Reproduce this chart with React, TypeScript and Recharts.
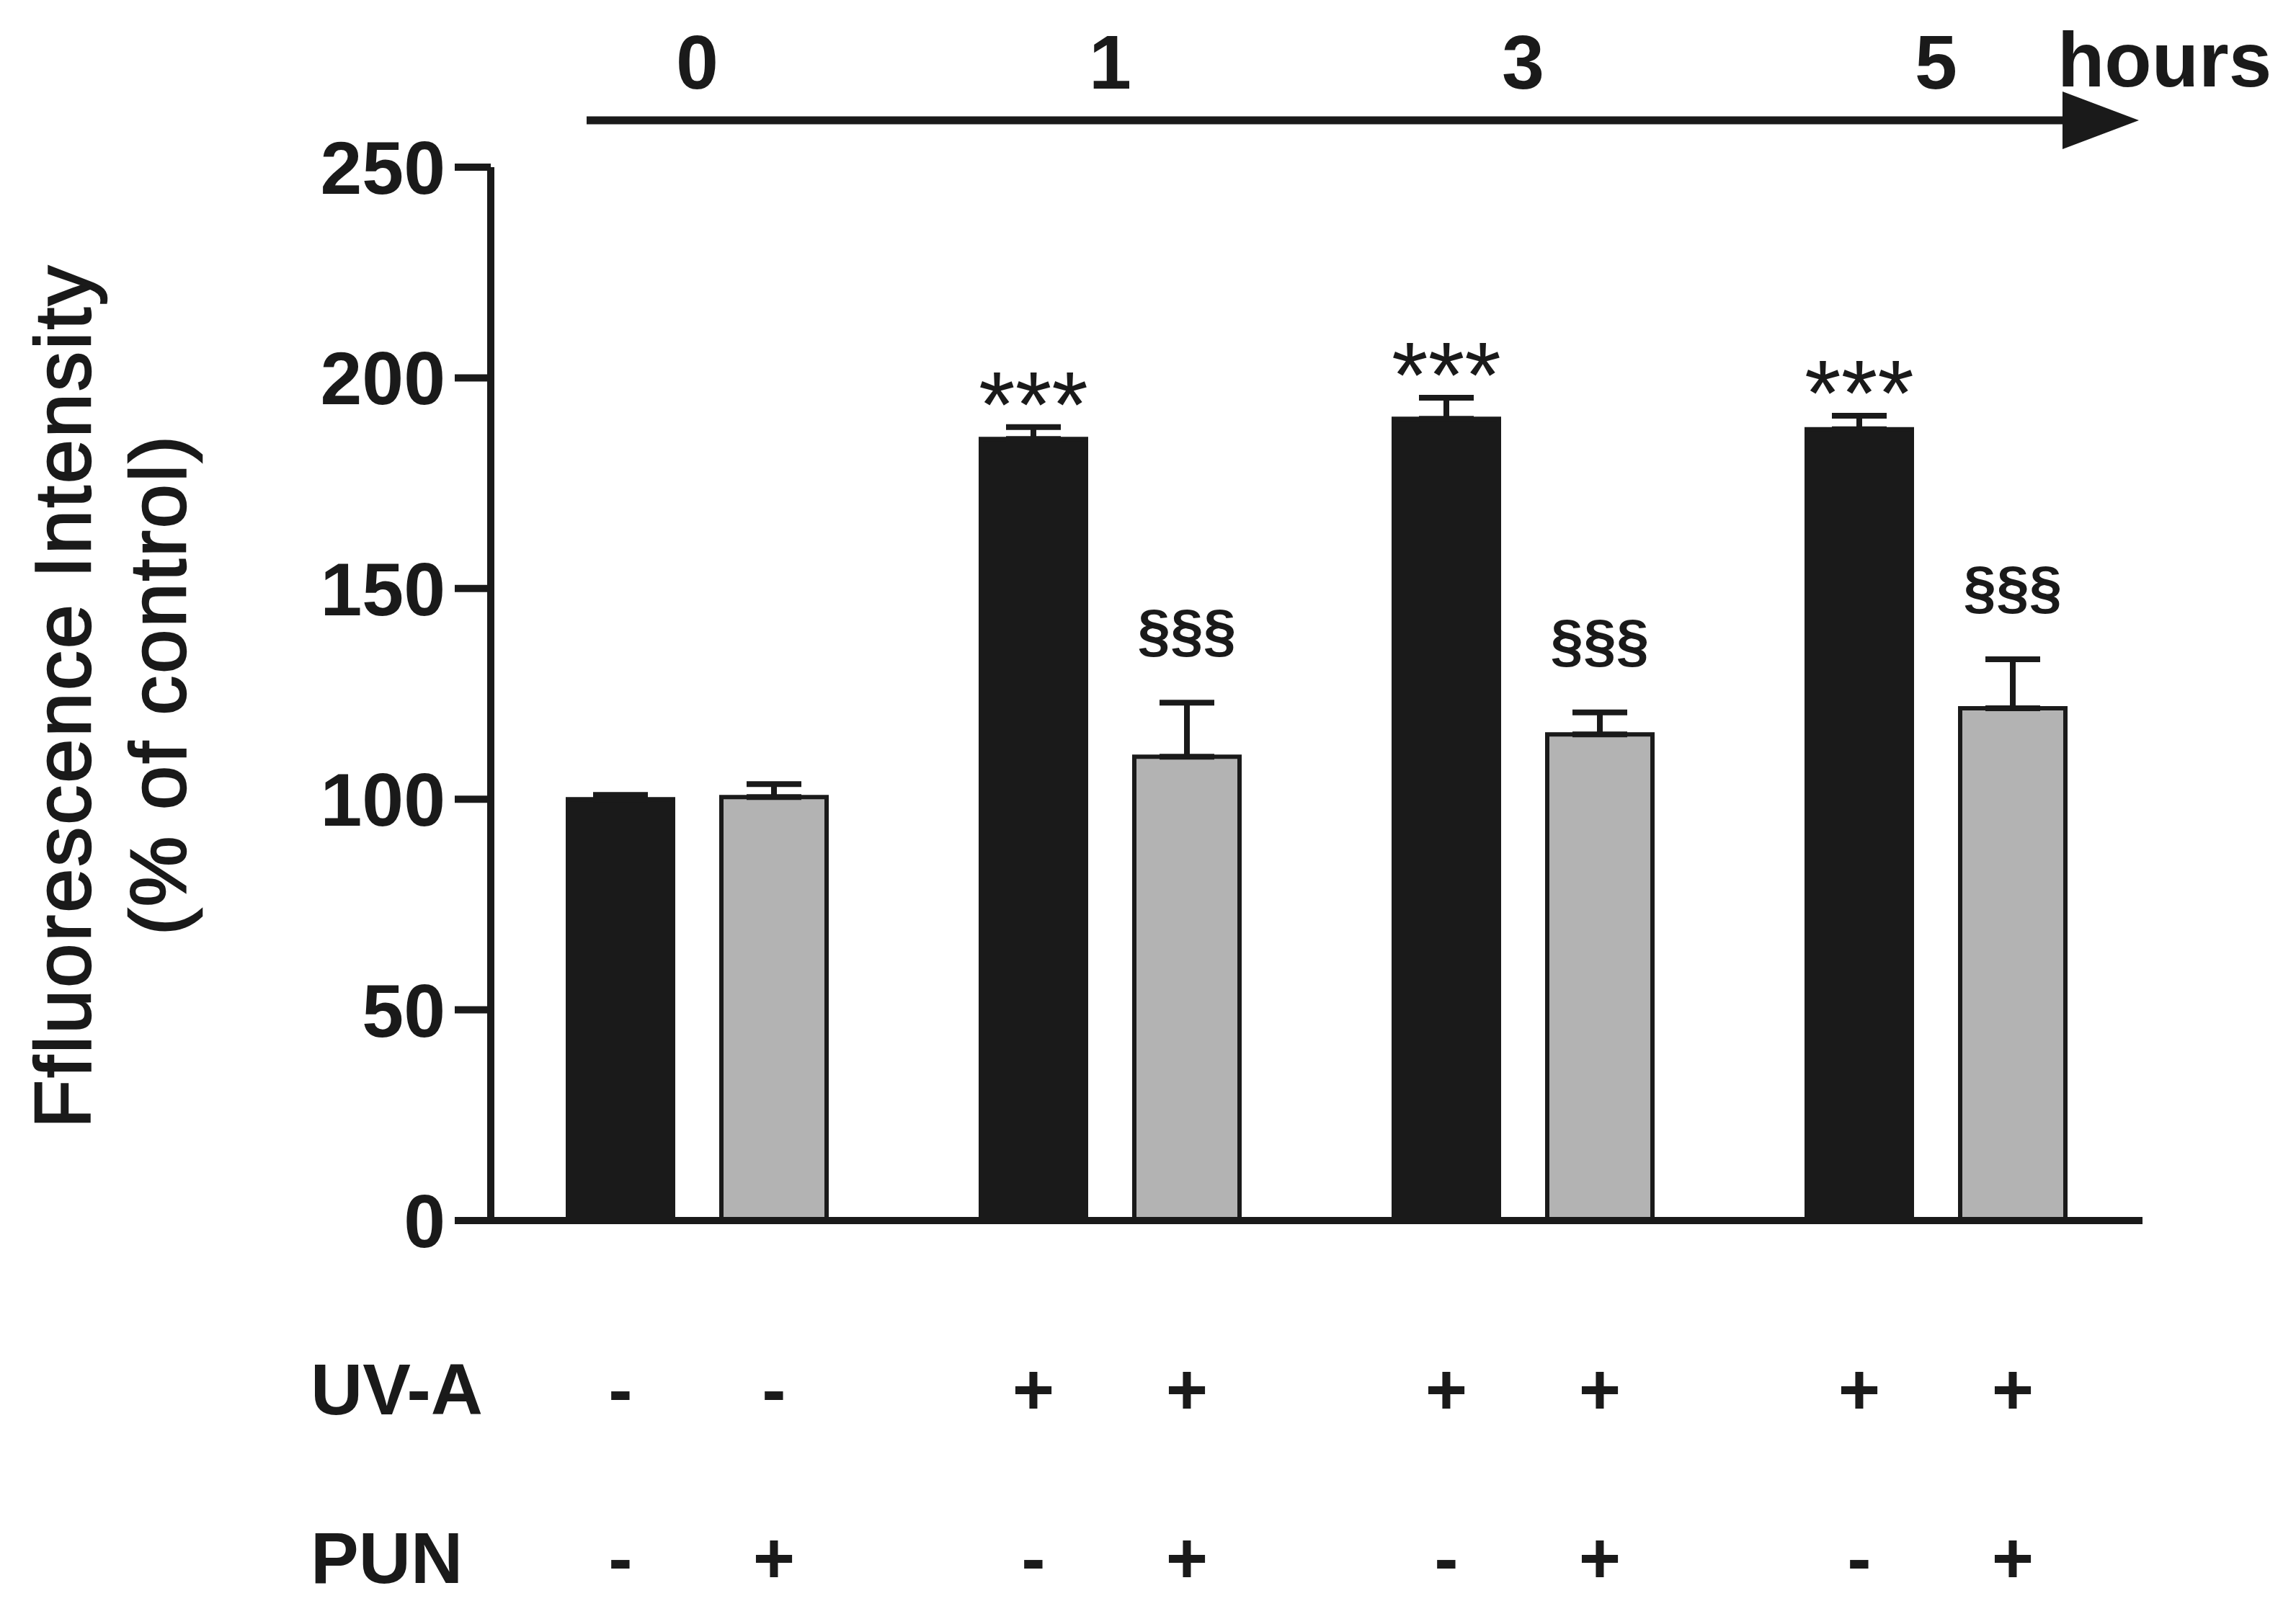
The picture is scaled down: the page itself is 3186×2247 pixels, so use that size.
import {
  Bar,
  BarChart,
  Customized,
  ErrorBar,
  LabelList,
  XAxis,
  YAxis,
} from "recharts";

const FONT = '"Liberation Sans", Arial, sans-serif';
const INK = "#1a1a1a";
const GREY = "#b3b3b3";

// time after irradiation (hours)
const hours = ["0", "1", "3", "5"];

// black bars: UV-A alone (control at 0 h)
const noPun = [100, 185.5, 190.3, 187.8];
const noPunErr = [1, 2.8, 5, 3.2];
const noPunMark = ["", "***", "***", "***"];
const noPunUva = ["-", "+", "+", "+"];
const noPunPun = ["-", "-", "-", "-"];

// grey bars: with PUN
const withPun = [100.5, 110.1, 115.4, 121.6];
const withPunErr = [3.1, 12.8, 5.2, 11.6];
const withPunMark = ["", "§§§", "§§§", "§§§"];
const withPunUva = ["-", "+", "+", "+"];
const withPunPun = ["+", "+", "+", "+"];

const yTicks = [0, 50, 100, 150, 200, 250];

const data = hours.map((h, i) => ({
  hour: h,
  noPun: noPun[i],
  noPunErr: [0, noPunErr[i]],
  withPun: withPun[i],
  withPunErr: [0, withPunErr[i]],
}));

// baselines of the UV-A / PUN rows, measured from the x axis
const UVA_ROW = 269;
const PUN_ROW = 503;

function barLabels(
  values: number[],
  errs: number[],
  marks: string[],
  uva: string[],
  pun: string[],
  mark: { size: number; weight: number; dy: number }
) {
  return (props: any) => {
    const { x, y, width, height, index } = props;
    const cx = x + width / 2;
    const base = y + height;
    const perUnit = height / values[index];
    const errTop = y - errs[index] * perUnit;
    const sign = { fontFamily: FONT, fontSize: 100, fontWeight: 700, fill: INK };
    return (
      <g>
        {marks[index] ? (
          <text
            x={cx}
            y={errTop + mark.dy}
            textAnchor="middle"
            fontFamily={FONT}
            fontSize={mark.size}
            fontWeight={mark.weight}
            fill={INK}
          >
            {marks[index]}
          </text>
        ) : null}
        <text x={cx} y={base + UVA_ROW} textAnchor="middle" {...sign}>
          {uva[index]}
        </text>
        <text x={cx} y={base + PUN_ROW} textAnchor="middle" {...sign}>
          {pun[index]}
        </text>
      </g>
    );
  };
}

function Decorations() {
  const title = {
    textAnchor: "middle" as const,
    fontFamily: FONT,
    fontSize: 110,
    letterSpacing: 3,
    fill: INK,
    stroke: INK,
    strokeWidth: 2.5,
  };
  return (
    <g>
      <line x1={814} y1={167} x2={2870} y2={167} stroke={INK} strokeWidth={11} />
      <polygon points="2862,127 2968,167 2862,207" fill={INK} />
      <text x={2855} y={120} fontFamily={FONT} fontSize={107} fontWeight={700} fill={INK}>
        hours
      </text>
      <text transform="translate(125,966) rotate(-90)" {...title}>
        Ffluorescence Intensity
      </text>
      <text transform="translate(257,950) rotate(-90)" {...title}>
        (% of control)
      </text>
      <text x={431} y={1963} fontFamily={FONT} fontSize={100} fontWeight={700} fill={INK}>
        UV-A
      </text>
      <text x={431} y={2197} fontFamily={FONT} fontSize={100} fontWeight={700} fill={INK}>
        PUN
      </text>
    </g>
  );
}

export default function App() {
  return (
    <div style={{ position: "absolute", left: 0, top: 0, background: "#fff" }}>
      <BarChart
        width={3186}
        height={2247}
        data={data}
        barGap={67}
        margin={{ top: 0, right: 213, bottom: 523, left: 481 }}
      >
        <XAxis
          dataKey="hour"
          tick={false}
          tickLine={false}
          axisLine={{ stroke: INK, strokeWidth: 10 }}
          height={30}
        />
        <XAxis
          xAxisId="top"
          dataKey="hour"
          orientation="top"
          height={232}
          axisLine={false}
          tickLine={false}
          tick={(p: any) => (
            <text
              x={p.x}
              y={123}
              textAnchor="middle"
              fontFamily={FONT}
              fontSize={106}
              fontWeight={700}
              fill={INK}
            >
              {p.payload.value}
            </text>
          )}
        />
        <YAxis
          type="number"
          domain={[0, 250]}
          ticks={yTicks}
          width={200}
          tickSize={50}
          tickMargin={13}
          axisLine={{ stroke: INK, strokeWidth: 10 }}
          tickLine={{ stroke: INK, strokeWidth: 10 }}
          tick={{ fontFamily: FONT, fontSize: 104, fontWeight: 700, fill: INK }}
        />
        <Bar
          dataKey="noPun"
          fill={INK}
          stroke={INK}
          strokeWidth={6}
          barSize={146}
          isAnimationActive={false}
        >
          <ErrorBar
            dataKey="noPunErr"
            direction="y"
            width={38}
            stroke={INK}
            strokeWidth={8}
            isAnimationActive={false}
          />
          <LabelList
            dataKey="noPun"
            content={barLabels(noPun, noPunErr, noPunMark, noPunUva, noPunPun, {
              size: 130,
              weight: 400,
              dy: 14,
            })}
          />
        </Bar>
        <Bar
          dataKey="withPun"
          fill={GREY}
          stroke={INK}
          strokeWidth={6}
          barSize={146}
          isAnimationActive={false}
        >
          <ErrorBar
            dataKey="withPunErr"
            direction="y"
            width={38}
            stroke={INK}
            strokeWidth={8}
            isAnimationActive={false}
          />
          <LabelList
            dataKey="withPun"
            content={barLabels(withPun, withPunErr, withPunMark, withPunUva, withPunPun, {
              size: 82,
              weight: 700,
              dy: -72,
            })}
          />
        </Bar>
        <Customized component={Decorations} />
      </BarChart>
    </div>
  );
}
